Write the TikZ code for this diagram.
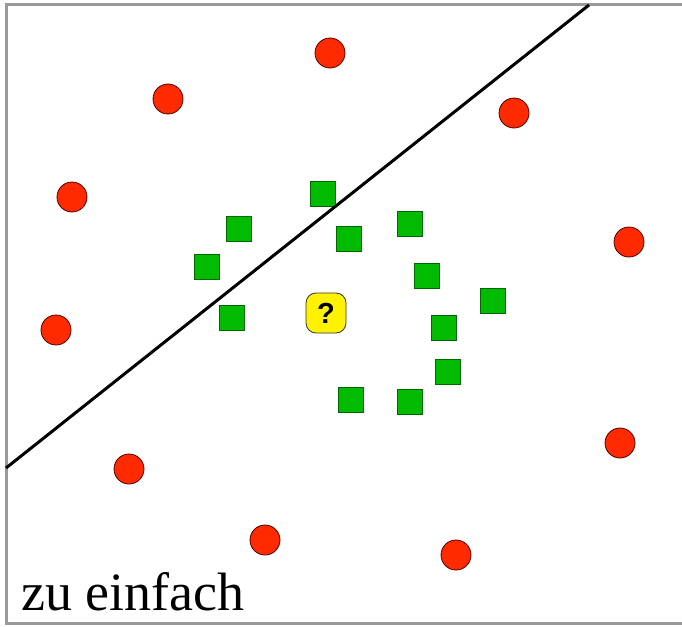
\documentclass[tikz,border=0pt]{standalone}
\usepackage{fontspec}
\setmainfont{Liberation Serif}
\newfontfamily\qfont{Liberation Sans}
\definecolor{dotred}{HTML}{FF2A00}
\definecolor{dotgreen}{HTML}{00BB00}
\definecolor{framegray}{HTML}{9A9A9A}

\begin{document}
\begin{tikzpicture}[
  x=1pt, y=-1pt,
  rdot/.style={circle,draw=black!70!red,fill=dotred,line width=0.8pt,minimum size=30pt,inner sep=0pt},
  gsq/.style={rectangle,draw=black!60!green,fill=dotgreen,line width=0.8pt,minimum size=25pt,inner sep=0pt},
  query/.style={rectangle,rounded corners=10pt,draw=black!80,fill=yellow,line width=0.8pt,minimum size=40pt,inner sep=0pt,font=\qfont\bfseries\fontsize{29}{30}\selectfont}
]
  \useasboundingbox (0,0) rectangle (682,626);
  \draw[framegray,line width=3pt] (682,5) -- (6,5) -- (6,623) -- (682,623);
  \node[rdot] (r0) at (330,53) {};
  \node[rdot] (r1) at (168,99) {};
  \node[rdot] (r2) at (514,113) {};
  \node[rdot] (r3) at (72,197) {};
  \node[rdot] (r4) at (629,242) {};
  \node[rdot] (r5) at (56,330) {};
  \node[rdot] (r6) at (129,469) {};
  \node[rdot] (r7) at (620,443) {};
  \node[rdot] (r8) at (265,540) {};
  \node[rdot] (r9) at (456,555) {};
  \node[gsq] (g0) at (323,194) {};
  \node[gsq] (g1) at (239,229) {};
  \node[gsq] (g2) at (349,239) {};
  \node[gsq] (g3) at (410,224) {};
  \node[gsq] (g4) at (207,267) {};
  \node[gsq] (g5) at (427,276) {};
  \node[gsq] (g6) at (493,301) {};
  \node[gsq] (g7) at (232,318) {};
  \node[gsq] (g8) at (444,328) {};
  \node[gsq] (g9) at (448,372) {};
  \node[gsq] (g10) at (351,400) {};
  \node[gsq] (g11) at (410,402) {};
  \node[query] (q) at (326,313) {?};
  \coordinate (s0) at (6,468);
  \coordinate (s1) at (589,5);
  \draw[line width=3pt] (s0) -- (s1);
  \node[anchor=base west,inner sep=0pt,font=\fontsize{54}{60}\selectfont] (lbl) at (21,610) {zu einfach};
\end{tikzpicture}
\end{document}
